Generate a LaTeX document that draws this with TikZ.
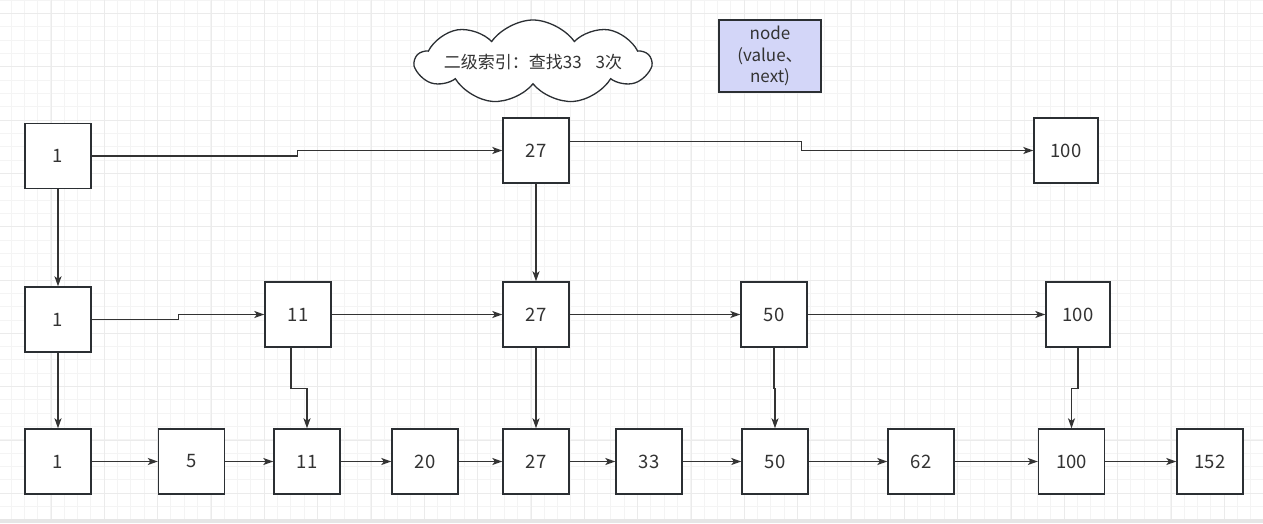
\documentclass[tikz,border=0pt]{standalone}
\usepackage{fontspec}
\setmainfont{Noto Sans CJK SC}
\usetikzlibrary{arrows.meta,shapes.symbols}
\definecolor{gridminor}{HTML}{F4F4F4}
\definecolor{gridmajor}{HTML}{EBEBEB}
\definecolor{stripgray}{HTML}{E6E6E6}
\definecolor{boxline}{HTML}{2B2F33}
\definecolor{textgray}{HTML}{333333}
\definecolor{nodeblue}{HTML}{D3D6F8}
\tikzset{
    listbox/.style={draw=boxline, line width=1.4pt, fill=white, minimum width=66pt, minimum height=65pt, inner sep=0pt, font=\fontsize{18.5}{22}\selectfont, text=textgray},
    link/.style={draw=textgray, line width=1.3pt, -{Stealth[length=10pt,width=7pt,inset=2.5pt]}}
}
\begin{document}
\begin{tikzpicture}[x=1pt,y=-1pt]
                \useasboundingbox (0,0) rectangle (1263,523);
                \fill[white] (0,0) rectangle (1263,523);
                \foreach \i in {0,1,...,93}
                {
                    \draw[gridminor,line width=1pt] ({11+\i*13.333},0) -- ({11+\i*13.333},519);
                }
                \foreach \i in {0,1,...,38}
                {
                    \draw[gridminor,line width=1pt] (0,{\i*13.333}) -- (1263,{\i*13.333});
                }
                \foreach \i in {0,1,...,22}
                {
                    \draw[gridmajor,line width=1pt] ({51+\i*53.333},0) -- ({51+\i*53.333},519);
                }
                \foreach \i in {0,1,...,9}
                {
                    \draw[gridmajor,line width=1pt] (0,{13.333+\i*53.333}) -- (1263,{13.333+\i*53.333});
                }
                \fill[stripgray] (0,519) rectangle (1263,523);

                \node[cloud, cloud puffs=9, cloud ignores aspect, cloud puff arc=110, draw=boxline, line width=1.3pt, fill=white, minimum width=232pt, minimum height=84pt, inner xsep=0pt, inner ysep=-12pt, font=\fontsize{17}{20}\selectfont, text=textgray] (note) at (533,62) {二级索引：查找33\hspace{14pt}3次};
                \node[draw=boxline, line width=1.4pt, fill=nodeblue, minimum width=102pt, minimum height=72pt, inner sep=0pt, align=center, font=\fontsize{17}{21.5}\selectfont, text=textgray] (legend) at (770,56) {node\\(value、\\next)};

                \node[listbox] (t1) at (58,156) {1};
                \node[listbox] (t27) at (536,150.5) {27};
                \node[listbox, minimum width=64pt] (t100) at (1066,150.5) {100};

                \node[listbox] (m1) at (58,319.5) {1};
                \node[listbox] (m11) at (298,314.5) {11};
                \node[listbox] (m27) at (536,314.5) {27};
                \node[listbox] (m50) at (774,314.5) {50};
                \node[listbox, minimum width=64pt] (m100) at (1078,314.5) {100};

                \foreach \name/\x/\val in {b1/58/1, b5/191.5/5, b11/307/11, b20/425/20, b27/536/27, b33/649/33, b50/775/50, b62/921/62, b100/1071.5/100, b152/1210/152}
                {
                    \node[listbox] (\name) at (\x,461.5) {\val};
                }

                \draw[link] (t1.east) -- ++(206,0) |- (t27.west);
                \draw[link] ([yshift=9pt]t27.east) -- ++(232,0) |- (t100.west);
                \draw[link] (t1) -- (m1);
                \draw[link] (t27) -- (m27);

                \draw[link] (m1.east) -- ++(87,0) |- (m11.west);
                \draw[link] (m11) -- (m27);
                \draw[link] (m27) -- (m50);
                \draw[link] (m50) -- (m100);

                \draw[link] (m1) -- (b1);
                \draw[link] ([xshift=-7pt]m11.south) -- ++(0,41) -| (b11.north);
                \draw[link] (m27) -- (b27);
                \draw[link] (m50.south) -- ++(0,41) -| (b50.north);
                \draw[link] (m100.south) -- ++(0,41) -| (b100.north);

                \foreach \a/\b in {b1/b5, b5/b11, b11/b20, b20/b27, b27/b33, b33/b50, b50/b62, b62/b100, b100/b152}
                {
                    \draw[link] (\a) -- (\b);
                }
\end{tikzpicture}
\end{document}
